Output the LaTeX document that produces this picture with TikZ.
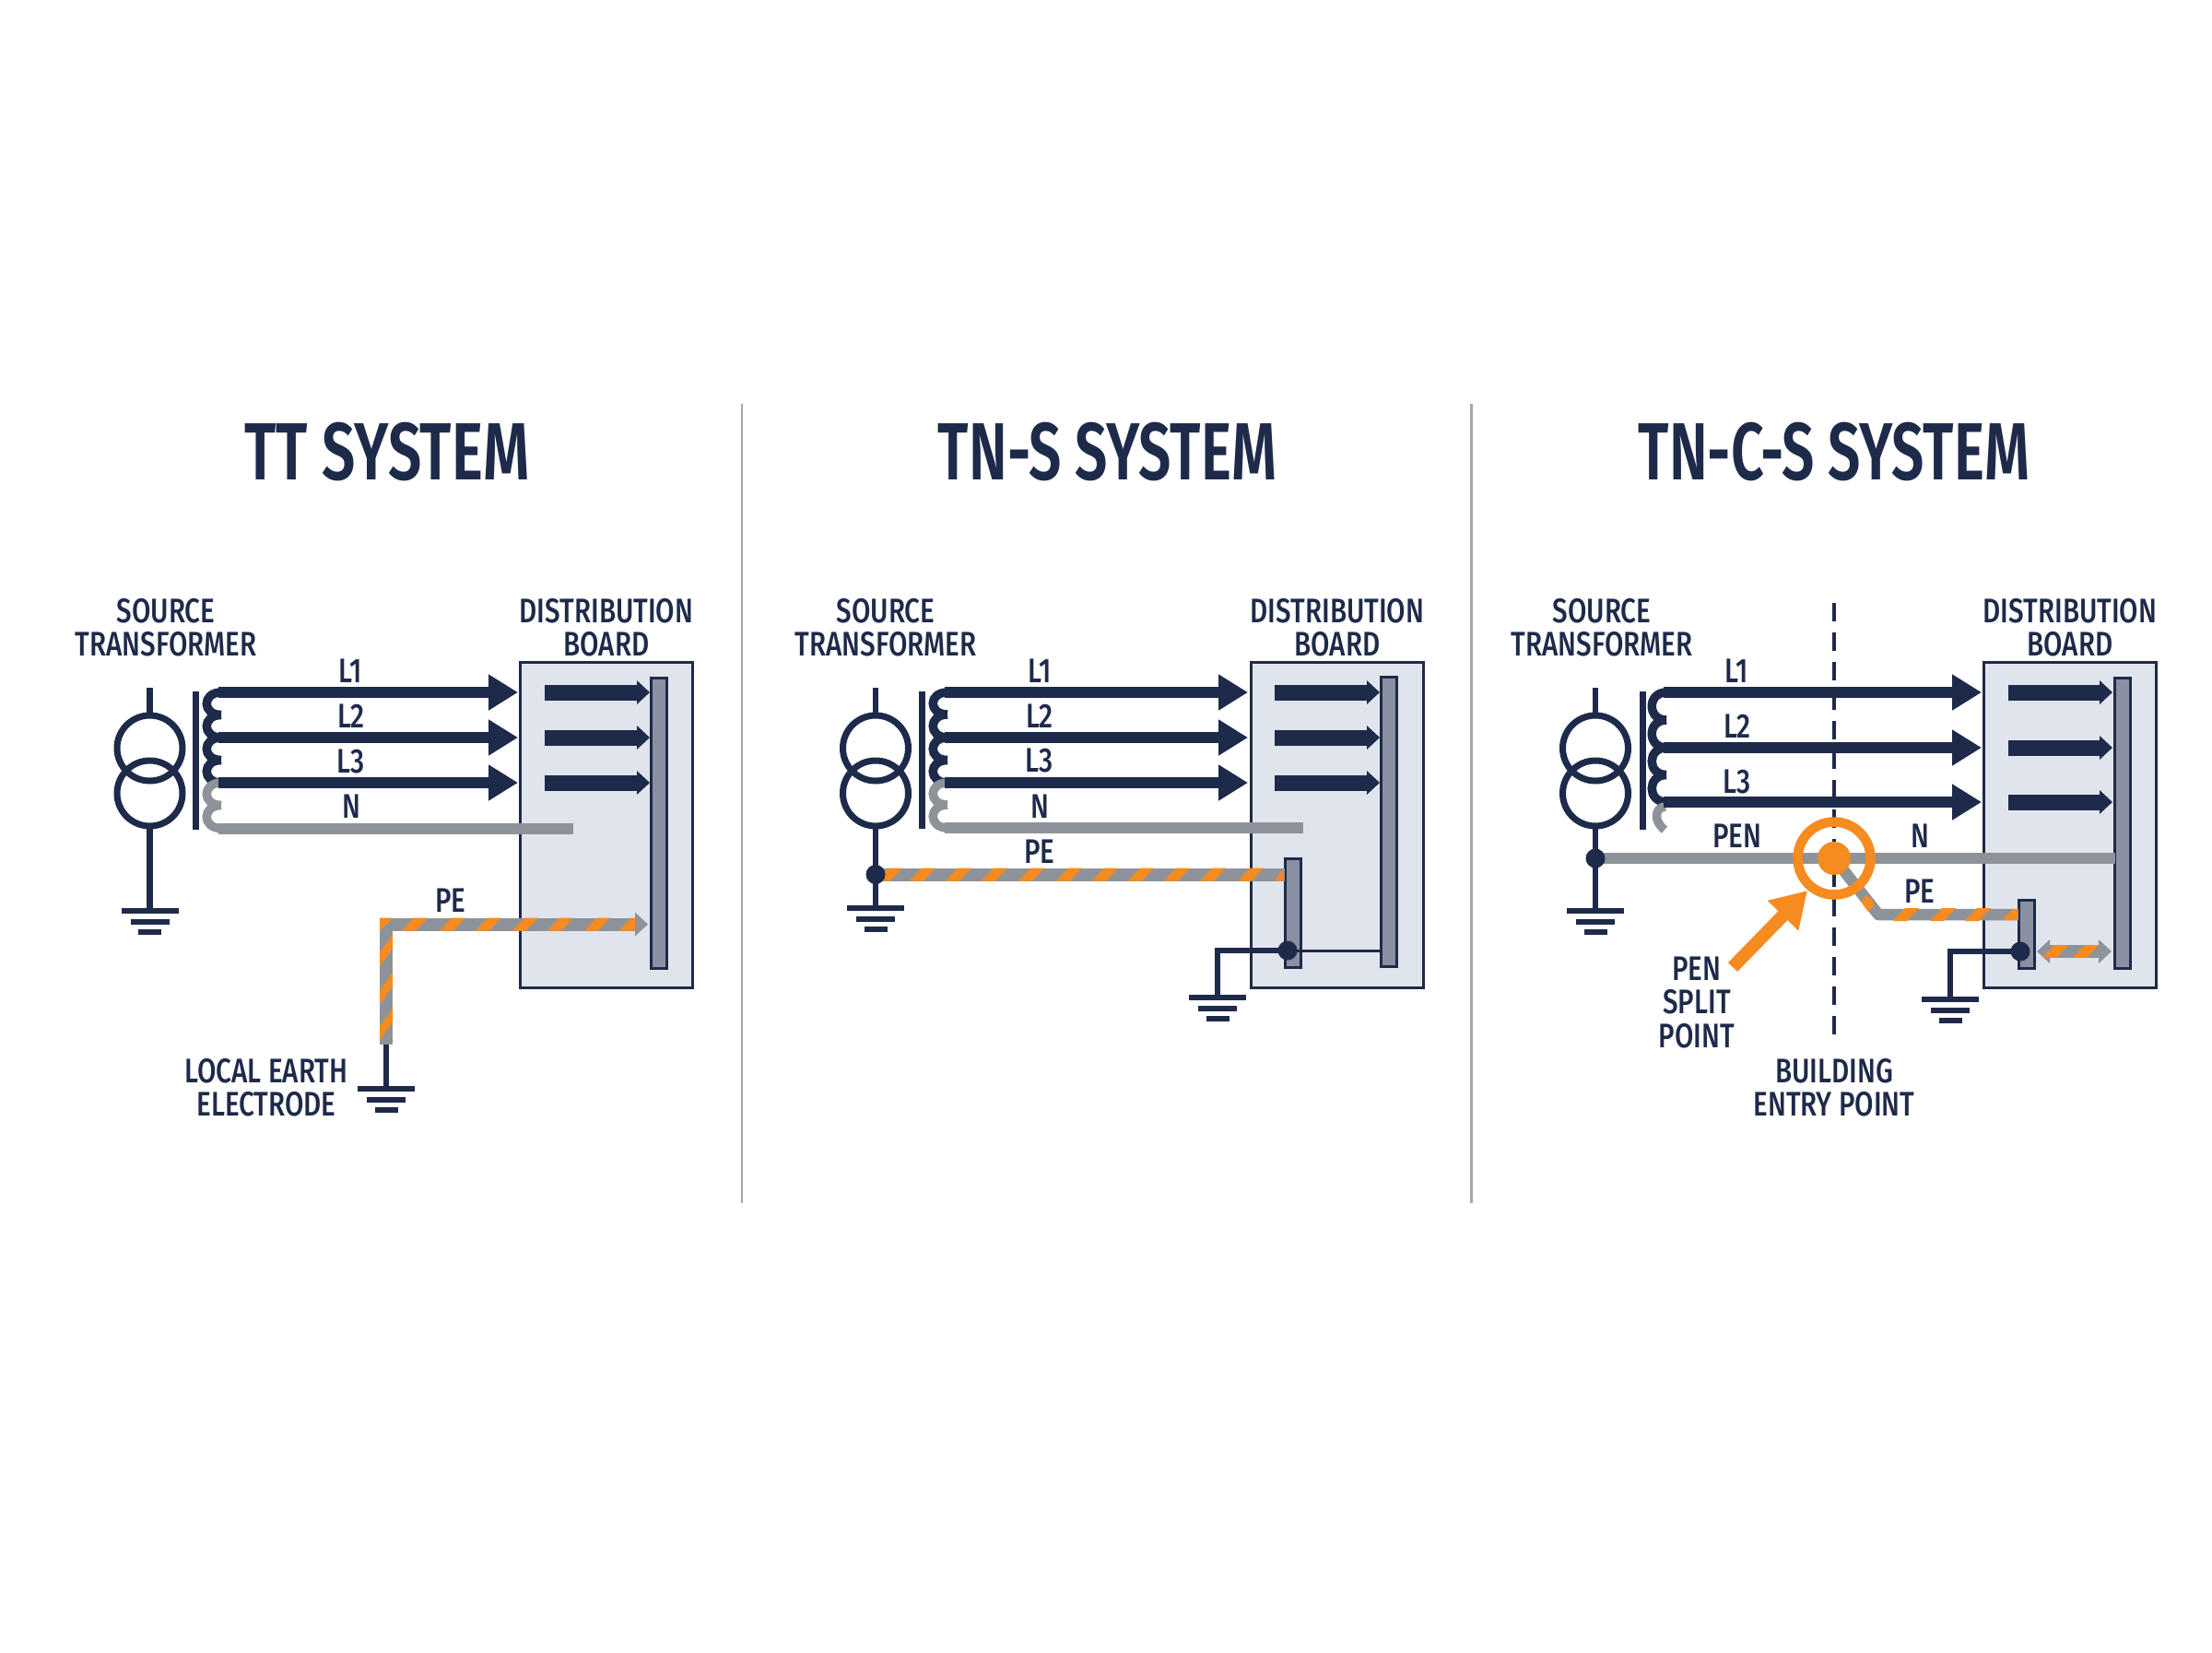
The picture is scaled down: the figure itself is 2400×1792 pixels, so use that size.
\documentclass[tikz,border=0pt]{standalone}
\usepackage{fontspec}
\setmainfont{Fira Sans}
\newfontfamily\labfam[FakeStretch=0.80]{Fira Sans Medium}
\newfontfamily\titfam[FakeStretch=0.73]{Fira Sans SemiBold}
\newfontfamily\titnar[FakeStretch=0.71]{Fira Sans SemiBold}
\usetikzlibrary{arrows.meta,shapes.geometric,calc}
\definecolor{navy}{HTML}{1E2A4A}
\definecolor{wiregray}{HTML}{8E9399}
\definecolor{hot}{HTML}{F68B1F}
\definecolor{boardfill}{HTML}{E0E4EC}
\definecolor{busfill}{HTML}{8A90A2}
\definecolor{divider}{HTML}{A4A8AD}
\tikzset{
 lab/.style={font=\labfam\fontsize{37}{36.5}\selectfont,text=navy,align=center,inner sep=0pt,outer sep=0pt},
 tit/.style={font=\titfam\fontsize{88}{88}\selectfont,text=navy,inner sep=0pt,outer sep=0pt},
 titn/.style={font=\titnar\fontsize{88}{88}\selectfont,text=navy,inner sep=0pt,outer sep=0pt},
 thinnavy/.style={draw=navy,line width=6.5pt},
 phase/.style={draw=navy,line width=12.5pt,-{Triangle[length=32pt,width=37pt]}},
 inphase/.style={draw=navy,line width=17pt,-{Triangle[length=14pt,width=25pt]}},
 neutral/.style={draw=wiregray,line width=12pt},
 pewire/.style={draw=wiregray,line width=14pt},
 coilnavy/.style={draw=navy,line width=9.5pt},
 coilgray/.style={draw=wiregray,line width=9.5pt},
 board/.style={draw=navy,fill=boardfill,line width=3pt,rectangle,inner sep=0pt,outer sep=0pt},
 busbar/.style={draw=navy,fill=busfill,line width=3pt,rectangle,inner sep=0pt,outer sep=0pt},
 ringcoil/.style={draw=navy,line width=7pt,circle,minimum size=71pt,inner sep=0pt,outer sep=0pt},
 joint/.style={fill=navy,circle,minimum size=21pt,inner sep=0pt,outer sep=0pt},
 sep/.style={draw=divider,line width=2.5pt}
}
\newcommand{\earthsym}[2]{%
 \fill[navy] (#1-31,#2-3) rectangle (#1+31,#2+3);
 \fill[navy] (#1-21,#2+8.5) rectangle (#1+21,#2+14.5);
 \fill[navy] (#1-12.5,#2+20) rectangle (#1+12.5,#2+26);
}
\newcommand{\xfmr}[2]{%
 \node[ringcoil] (#1ca) at (#2,811.5) {};
 \node[ringcoil] (#1cb) at (#2,860.5) {};
 \coordinate (#1top) at (#2,746);
 \draw[thinnavy] (#1top) -- (#1ca.north);
}
\newcommand{\coilarc}[4]{%
 \draw[#1] (#2+3,#3) .. controls (#2-18,#3) and (#2-18,#4) .. (#2+3,#4);
}
\newcommand{\hstripes}[2]{%
 \foreach \sx in {#2} {\fill[hot] (\sx-14,#1+7) -- (\sx+1,#1+7) -- (\sx+14,#1-7) -- (\sx-1,#1-7) -- cycle;}
}
\newcommand{\vstripes}[2]{%
 \foreach \sy in {#2} {\fill[hot] (#1-7,\sy+2) -- (#1-7,\sy+17) -- (#1+7,\sy-2) -- (#1+7,\sy-17) -- cycle;}
}
\begin{document}
\begin{tikzpicture}[x=1pt,y=-1pt]
\useasboundingbox[fill=white] (0,0) rectangle (2400,1792);
\coordinate (d1a) at (805,438); \coordinate (d1b) at (805,1305);
\coordinate (d2a) at (1596.5,438); \coordinate (d2b) at (1596.5,1305);
\draw[sep] (d1a) -- (d1b);
\draw[sep] (d2a) -- (d2b);
\node[tit] (t1) at (420,490.5) {TT SYSTEM};
\node[titn] (t2) at (1201.5,490.5) {TN-S SYSTEM};
\node[titn] (t3) at (1990,490.5) {TN-C-S SYSTEM};

%%%% PANEL 1
\node[lab] (a1) at (180,680.5) {SOURCE\\TRANSFORMER};
\node[lab] (a2) at (658,680.5) {DISTRIBUTION\\BOARD};
\node[board,minimum width=187pt,minimum height=353pt] (abox) at (658,895) {};
\node[busbar,minimum width=17pt,minimum height=315pt] (abus) at (714.5,892.5) {};
\xfmr{a}{162.5}
\coordinate (agnd) at (162.5,988);
\draw[thinnavy] (acb.south) -- (agnd);
\earthsym{162.5}{988}
\fill[navy] (209,750) rectangle (215.5,900);
\coilarc{coilnavy}{237}{751}{775.5}
\coilarc{coilnavy}{237}{775.5}{800}
\coilarc{coilnavy}{237}{800}{824.5}
\coilarc{coilnavy}{237}{824.5}{849}
\coilarc{coilgray}{237}{849}{873.5}
\coilarc{coilgray}{237}{873.5}{898.5}
\foreach \n/\yy in {1/751,2/800,3/849}{
 \coordinate (aw\n) at (237,\yy);
 \coordinate (ae\n) at (562,\yy);
 \coordinate (ai\n) at (591,\yy);
 \coordinate (aj\n) at (705,\yy);
 \draw[phase] (aw\n) -- (ae\n);
 \draw[inphase] (ai\n) -- (aj\n);
}
\coordinate (an1) at (237,898.5); \coordinate (an2) at (622,898.5);
\draw[neutral] (an1) -- (an2);
\node[lab] (al1) at (380,727.5) {L1};
\node[lab] (al2) at (381,776.5) {L2};
\node[lab] (al3) at (381,825.5) {L3};
\node[lab] (aln) at (381,875) {N};
\node[lab] (alp) at (489,977) {PE};
\coordinate (ap1) at (419,1133); \coordinate (ap2) at (419,1002.5); \coordinate (ap3) at (703,1002.5);
\draw[thinnavy] (ap1) -- (419,1181);
\earthsym{419}{1181}
\draw[pewire,-{Triangle[length=14pt,width=25pt]}] (ap1) -- (ap2) -- (ap3);
\fill[hot] (412,995.5) -- (426,995.5) -- (412,1009.5) -- cycle;
\hstripes{1002.5}{450,491,530,570,608,648}
\fill[hot] (672,1009.5) -- (689,1009.5) -- (689,995.5) -- (685,995.5) -- cycle;
\vstripes{419}{1031,1072,1111}
\node[lab] (ale) at (289,1179.5) {LOCAL EARTH\\ELECTRODE};

%%%% PANEL 2
\node[lab] (b1) at (961,680.5) {SOURCE\\TRANSFORMER};
\node[lab] (b2) at (1451,680.5) {DISTRIBUTION\\BOARD};
\node[board,minimum width=187pt,minimum height=353pt] (bbox) at (1450.5,895) {};
\node[busbar,minimum width=17pt,minimum height=314pt] (bbus) at (1507,891.5) {};
\node[busbar,minimum width=17pt,minimum height=118pt] (bsub) at (1402.5,990) {};
\xfmr{b}{950}
\coordinate (bgnd) at (950,985);
\draw[thinnavy] (bcb.south) -- (bgnd);
\earthsym{950}{985}
\fill[navy] (997,750) rectangle (1003.5,899);
\coilarc{coilnavy}{1025}{751}{775}
\coilarc{coilnavy}{1025}{775}{800}
\coilarc{coilnavy}{1025}{800}{824.5}
\coilarc{coilnavy}{1025}{824.5}{849}
\coilarc{coilgray}{1025}{849}{873}
\coilarc{coilgray}{1025}{873}{898}
\foreach \n/\yy in {1/751,2/800,3/849}{
 \coordinate (bw\n) at (1025,\yy);
 \coordinate (be\n) at (1354,\yy);
 \coordinate (bi\n) at (1383,\yy);
 \coordinate (bj\n) at (1497,\yy);
 \draw[phase] (bw\n) -- (be\n);
 \draw[inphase] (bi\n) -- (bj\n);
}
\coordinate (bn1) at (1025,898); \coordinate (bn2) at (1414,898);
\draw[neutral] (bn1) -- (bn2);
\coordinate (bp1) at (950,948.5);
\draw[pewire] (bp1) -- (bp1 -| bsub.west);
\hstripes{948.5}{965,1001,1040,1079,1119,1160,1199,1238,1277,1316,1357}
\fill[hot] (1383,955.5) -- (1392,955.5) -- (1392,943) -- cycle;
\node[joint] (bdot1) at (950,948.5) {};
\coordinate (bdot2c) at (1397,1031);
\draw[navy,line width=3pt] (bdot2c) -- (bbus.west |- bdot2c);
\coordinate (bgc) at (1321,1031); \coordinate (bge) at (1321,1082);
\draw[thinnavy,line join=miter] (bdot2c) -- (bgc) -- (bge);
\earthsym{1321}{1082}
\node[joint] (bdot2) at (bdot2c) {};
\node[lab] (bl1) at (1128,727.5) {L1};
\node[lab] (bl2) at (1128,776.5) {L2};
\node[lab] (bl3) at (1128,825) {L3};
\node[lab] (bln) at (1128,875) {N};
\node[lab] (blp) at (1128,923.5) {PE};

%%%% PANEL 3
\node[lab] (c1) at (1738,680.5) {SOURCE\\TRANSFORMER};
\node[lab] (c2) at (2246,680.5) {DISTRIBUTION\\BOARD};
\node[board,minimum width=187pt,minimum height=353pt] (cbox) at (2246,895) {};
\node[busbar,minimum width=17pt,minimum height=315pt] (cbus) at (2303,892.5) {};
\node[busbar,minimum width=17pt,minimum height=74pt] (csub) at (2198.5,1013.5) {};
\xfmr{c}{1731}
\coordinate (cgnd) at (1731,988);
\draw[thinnavy] (ccb.south) -- (cgnd);
\earthsym{1731}{988}
\fill[navy] (1779,750) rectangle (1785.5,900);
\coilarc{coilnavy}{1805}{751}{781}
\coilarc{coilnavy}{1805}{781}{811}
\coilarc{coilnavy}{1805}{811}{840.5}
\coilarc{coilnavy}{1805}{840.5}{870}
\draw[coilgray] (1807,875) .. controls (1796,875) and (1793,890) .. (1806,900);
\foreach \n/\yy in {1/751,2/811,3/870}{
 \coordinate (cw\n) at (1805,\yy);
 \coordinate (ce\n) at (2150,\yy);
 \coordinate (ci\n) at (2179,\yy);
 \coordinate (cj\n) at (2292,\yy);
 \draw[phase] (cw\n) -- (ce\n);
 \draw[inphase] (ci\n) -- (cj\n);
}
\coordinate (cda) at (1990,654); \coordinate (cdb) at (1990,1131);
\coordinate (cpen) at (1731,931);
\coordinate (csplit) at (1990,931);
\draw[neutral] (cpen) -- (cpen -| cbus.west);
\draw[navy,line width=3.5pt,dash pattern=on 20pt off 12pt] (cda) -- (cdb);
\coordinate (cpk) at (2038,992);
\draw[draw=wiregray,line width=12.5pt,line join=round] (csplit) -- (cpk) -- (cpk -| csub.west);
\fill[hot] (2026,970) -- (2034,981) -- (2027,989) -- (2019,978) -- cycle;
\hstripes{992}{2068,2108,2146}
\fill[hot] (2172,998) -- (2189,998) -- (2189,986) -- (2184,986) -- cycle;
\node[draw=hot,line width=10.5pt,circle,minimum size=79pt,inner sep=0pt,outer sep=0pt] (cring) at (csplit) {};
\node[fill=hot,circle,minimum size=36pt,inner sep=0pt,outer sep=0pt] (cdot) at (csplit) {};
\node[joint] (cdot1) at (cpen) {};
\coordinate (cas) at (1880,1049); \coordinate (cat) at (1961,966);
\draw[draw=hot,line width=14pt,-{Triangle[length=38pt,width=44pt]}] (cas) -- (cat);
\coordinate (cda1) at (2210,1032); \coordinate (cda2) at (2291,1032);
\draw[draw=wiregray,line width=14pt,{Triangle[length=14pt,width=25pt]}-{Triangle[length=14pt,width=25pt]}] (cda1) -- (cda2);
\hstripes{1032}{2230,2263}
\coordinate (cdot2c) at (2192,1032);
\coordinate (cgc) at (2116,1032); \coordinate (cge) at (2116,1084);
\draw[thinnavy,line join=miter] (cdot2c) -- (cgc) -- (cge);
\earthsym{2116}{1084}
\node[joint] (cdot2) at (cdot2c) {};
\node[lab] (cl1) at (1884,727.5) {L1};
\node[lab] (cl2) at (1885,788) {L2};
\node[lab] (cl3) at (1885,847.5) {L3};
\node[lab] (clpen) at (1885,906.5) {PEN};
\node[lab] (cln) at (2083,906.5) {N};
\node[lab] (clp) at (2083,967) {PE};
\node[lab] (cls) at (1841,1087) {PEN\\SPLIT\\POINT};
\node[lab] (clb) at (1990,1179.5) {BUILDING\\ENTRY POINT};
\end{tikzpicture}
\end{document}
